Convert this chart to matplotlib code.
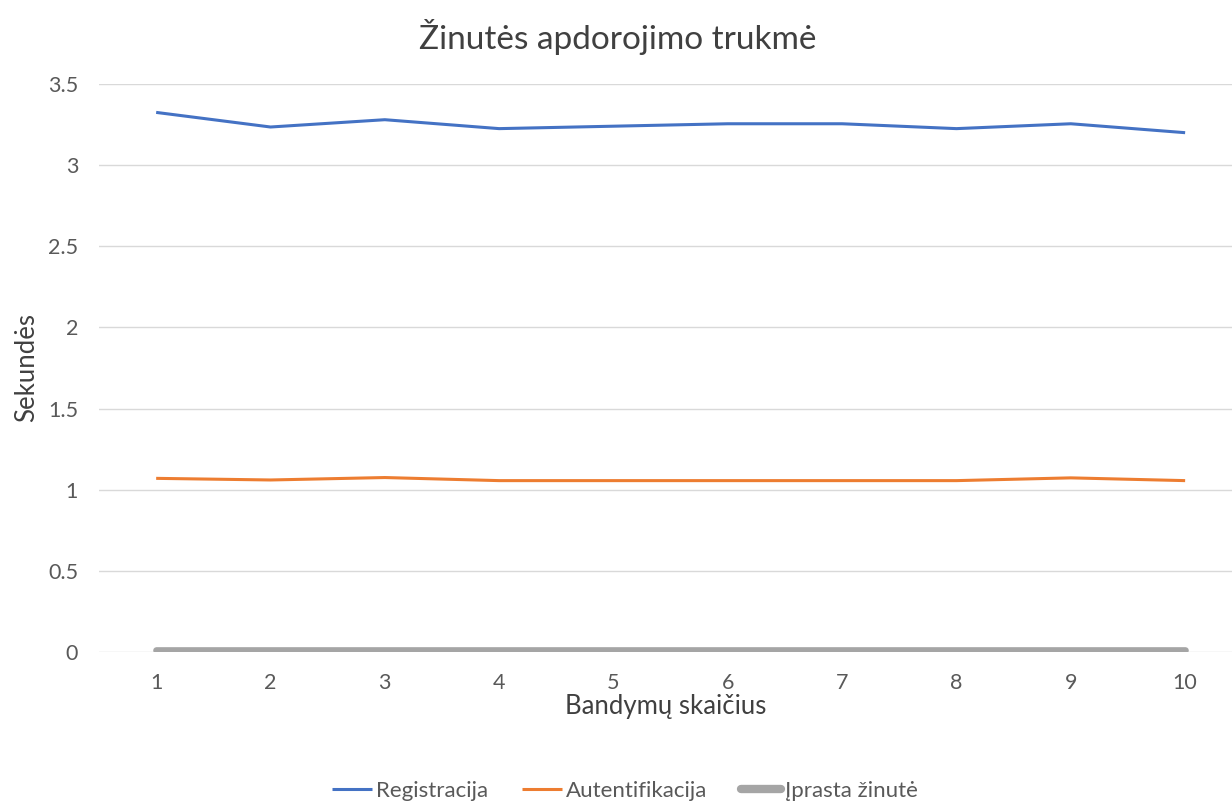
import matplotlib
matplotlib.use("Agg")
import matplotlib.pyplot as plt

plt.rcParams['font.family'] = ['Lato', 'DejaVu Sans']

attempts = [1, 2, 3, 4, 5, 6, 7, 8, 9, 10]
registracija = [3.325, 3.235, 3.28, 3.225, 3.24, 3.255, 3.255, 3.225, 3.255, 3.20]
autentifikacija = [1.07, 1.06, 1.075, 1.056, 1.056, 1.056, 1.056, 1.056, 1.073, 1.056]
iprasta = [0.015] * 10
y_ticks = [0, 0.5, 1, 1.5, 2, 2.5, 3, 3.5]
y_tick_labels = ["0", "0.5", "1", "1.5", "2", "2.5", "3", "3.5"]

W, H = 1232, 802
fig = plt.figure(figsize=(W / 100, H / 100), dpi=100)
ax = fig.add_axes([99 / W, 150 / H, (1232 - 99) / W, 568 / H])

ax.plot(attempts, registracija, color='#4472C4', lw=2.2, label='Registracija', solid_capstyle='butt')
ax.plot(attempts, autentifikacija, color='#ED7D31', lw=2.2, label='Autentifikacija', solid_capstyle='butt')
ax.plot(attempts, iprasta, color='#A5A5A5', lw=4.8, label='Įprasta žinutė', solid_capstyle='round')

ax.set_ylim(0, 3.5)
ax.set_xlim(0.5, 0.5 + (1232 - 99) / 114.33)
ax.set_yticks(y_ticks)
ax.set_yticklabels(y_tick_labels)
ax.set_xticks(attempts)
ax.set_xticklabels([str(a) for a in attempts])
ax.grid(axis='y', color='#d9d9d9', lw=1)
ax.set_axisbelow(True)
for s in ax.spines.values():
    s.set_visible(False)
ax.tick_params(axis='both', length=0, labelsize=15.5, colors='#595959')
ax.tick_params(axis='y', pad=15)
ax.tick_params(axis='x', pad=15)

ax.set_xlabel('Bandymų skaičius', fontsize=18.5, color='#404040', labelpad=1)
ax.set_ylabel('Sekundės', fontsize=18.5, color='#404040', labelpad=6)

fig.text(618 / W, 1 - 37 / H, 'Žinutės apdorojimo trukmė', ha='center', va='center',
         fontsize=24, color='#404040')

leg = fig.legend(loc='center', bbox_to_anchor=(625 / W, 1 - 791 / H), ncol=3, frameon=False,
                 fontsize=16, handlelength=1.8, handletextpad=0.15, columnspacing=1.55,
                 labelcolor='#595959')
leg.get_lines()[2].set_linewidth(6)

fig.savefig('out.png', dpi=100)
